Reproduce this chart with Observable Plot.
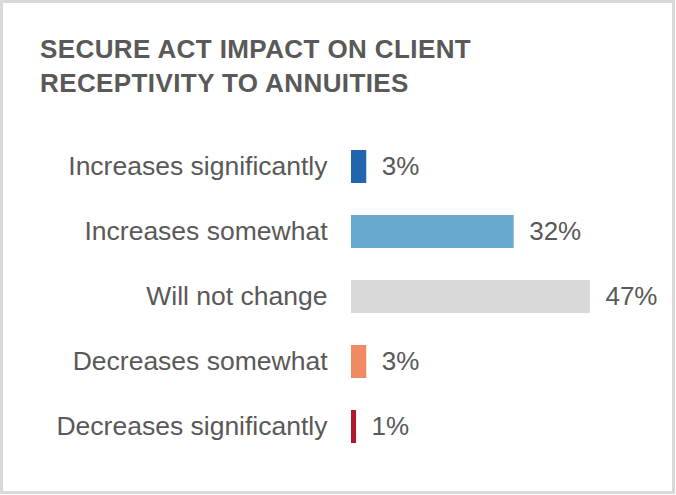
<!DOCTYPE html>
<html>
<head>
<meta charset="utf-8">
<script src="https://cdn.jsdelivr.net/npm/d3@7"></script>
<script src="https://cdn.jsdelivr.net/npm/@observablehq/plot@0.6"></script>
<style>
  html, body { margin: 0; padding: 0; background: #fff; }
  #frame { position: absolute; left: 0; top: 0; width: 675px; height: 494px; box-sizing: border-box; border: 3px solid #d9d9d9; }
  #title { position: absolute; left: 40px; top: 32px; font-family: "Liberation Sans", Arial, sans-serif; font-weight: bold; font-size: 26px; line-height: 34px; color: #595959; letter-spacing: 0.4px; }
  #chart { position: absolute; left: 0; top: 0; }
</style>
</head>
<body>
<div id="frame"></div>
<div id="title">SECURE ACT IMPACT ON CLIENT<br>RECEPTIVITY TO ANNUITIES</div>
<div id="chart"></div>
<script>
const categories = ["Increases significantly", "Increases somewhat", "Will not change", "Decreases somewhat", "Decreases significantly"];
const values = [3, 32, 47, 3, 1];
const colors = ["#2166ac", "#67a9cf", "#d9d9d9", "#ef8a62", "#b2182b"];

const data = categories.map((c, i) => ({category: c, value: values[i], color: colors[i]}));

const chart = Plot.plot({
  width: 676,
  height: 495,
  marginLeft: 351,
  marginRight: 20,
  marginTop: 116.5,
  marginBottom: 19,
  style: {fontFamily: "'Liberation Sans', Arial, sans-serif", background: "transparent", overflow: "visible"},
  x: {domain: [0, 60], axis: null},
  y: {domain: categories, padding: 0.5, label: null},
  marks: [
    Plot.barX(data, {x: "value", y: "category", fill: "color"}),
    Plot.text(data, {x: "value", y: "category", text: d => d.value + "%", textAnchor: "start", dx: 15, fontSize: 26, fill: "#595959"}),
    Plot.axisY({tickSize: 0, tickPadding: 24, fontSize: 26.5, color: "#595959", label: null})
  ]
});
document.getElementById("chart").appendChild(chart);
</script>
</body>
</html>
